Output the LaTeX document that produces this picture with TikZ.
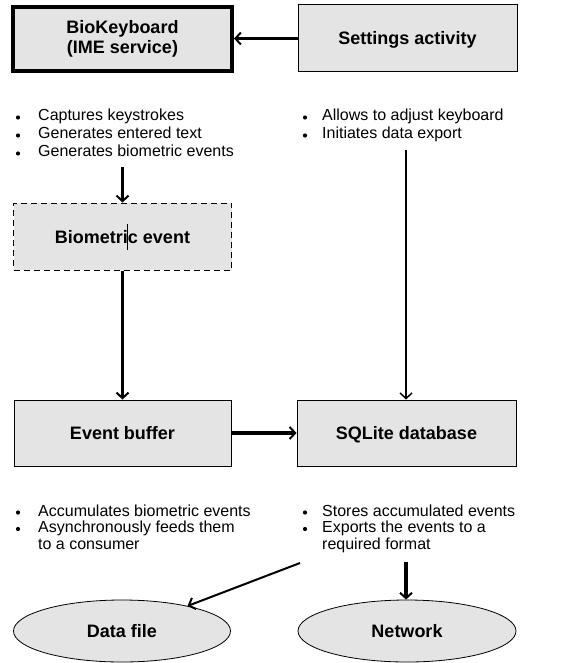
\documentclass[tikz,border=0pt]{standalone}
\usepackage{fontspec}
\setmainfont{Liberation Sans}
\usetikzlibrary{arrows.meta,shapes.geometric}
\definecolor{boxgray}{HTML}{E4E4E4}
\begin{document}
\begin{tikzpicture}[x=1pt,y=-1pt,
  box/.style={draw, fill=boxgray, line width=1pt, minimum width=218pt, minimum height=66pt,
    inner sep=0pt, font=\fontsize{18}{20}\selectfont\bfseries, align=center},
  onebox/.style={box, text height=13pt, text depth=0pt},
  oval/.style={ellipse, draw, fill=boxgray, line width=0.8pt, minimum width=217pt, minimum height=62pt,
    inner sep=0pt, text height=13pt, text depth=0pt, font=\fontsize{18}{20}\selectfont\bfseries},
  txt/.style={anchor=base west, inner sep=0pt, font=\fontsize{16}{18}\selectfont},
  bigarrow/.style={line width=3.2pt, -{Straight Barb[length=5.5pt,width=12pt,line width=2pt]}},
  midarrow/.style={line width=2pt, -{Straight Barb[length=5.5pt,width=12pt,line width=2pt]}},
  thinarrow/.style={line width=1.3pt, -{Straight Barb[length=5.5pt,width=12pt,line width=1.5pt]}},
  dot/.style={fill=black}]
\useasboundingbox (0,0) rectangle (584,663);

% boxes
\node[box, line width=4pt, minimum width=219pt, minimum height=64pt] (bk) at (122.5,39) {BioKeyboard\\(IME service)};
\node[onebox, minimum width=219pt, minimum height=67pt] (sa) at (407.5,38.5) {Settings activity};
\node[onebox, dashed, dash pattern=on 6pt off 4pt, minimum width=218pt, minimum height=67pt] (be) at (122.5,236.5) {Biometric event};
\node[onebox, minimum width=217pt] (eb) at (122.5,433) {Event buffer};
\node[onebox, minimum width=219pt] (sq) at (406.5,433) {SQLite database};
\node[oval] (df) at (122,631) {Data file};
\node[oval, minimum width=218pt] (nw) at (407,631) {Network};

% text cursor in "Biometric event"
\draw[line width=0.6pt] (127.7,224) -- (127.7,250);

% bullet lists
\node[txt] (t1) at (38,121) {Captures keystrokes};
\node[txt] (t2) at (38,139) {Generates entered text};
\node[txt] (t3) at (38,157) {Generates biometric events};
\node[txt] (t4) at (322,121) {Allows to adjust keyboard};
\node[txt] (t5) at (322,139) {Initiates data export};
\node[txt] (t6) at (38,516) {Accumulates biometric events};
\node[txt] (t7) at (38,532.5) {Asynchronously feeds them};
\node[txt] (t8) at (38,549) {to a consumer};
\node[txt] (t9) at (322,516) {Stores accumulated events};
\node[txt] (t10) at (322,532.5) {Exports the events to a};
\node[txt] (t11) at (322,549) {required format};
\foreach \x/\y in {18/117.5, 18/135.5, 18/153.5, 305/117.5, 305/135.5, 18/512.5, 18/529, 305/512.5, 305/529}
  \fill[dot] (\x,\y) circle (2.1pt);

% connectors
\coordinate (c1) at (122.5,167);
\coordinate (c2) at (406,150);
\coordinate (c3) at (300,563);
\coordinate (c4) at (406,562);
\draw[bigarrow] (sa.west) -- (sa.west -| bk.east);
\draw[bigarrow] (c1) -- (be.north);
\draw[bigarrow] (be.south) -- (eb.north);
\draw[bigarrow] (eb.east) -- (sq.west);
\draw[thinarrow] (c2) -- (c2 |- sq.north);
\draw[midarrow] (c3) -- (df);
\draw[bigarrow] (c4) -- (c4 |- nw.north);
\end{tikzpicture}
\end{document}
